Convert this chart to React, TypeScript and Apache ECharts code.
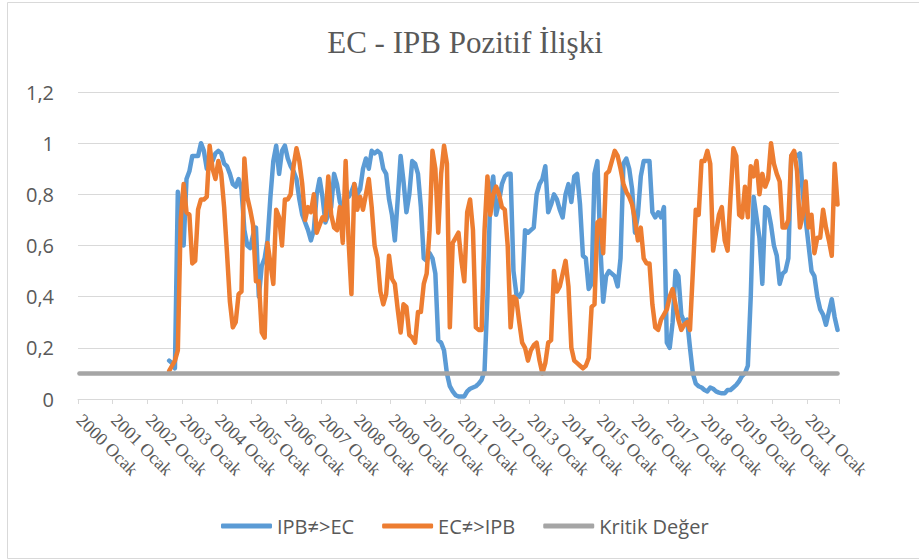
import { useEffect, useRef } from 'react';
import * as echarts from 'echarts';

const titleText = 'EC - IPB Pozitif İlişki';
const years = [2000, 2001, 2002, 2003, 2004, 2005, 2006, 2007, 2008, 2009, 2010, 2011, 2012, 2013, 2014, 2015, 2016, 2017, 2018, 2019, 2020, 2021];
const monthNames = ['Ocak', 'Şubat', 'Mart', 'Nisan', 'Mayıs', 'Haziran', 'Temmuz', 'Ağustos', 'Eylül', 'Ekim', 'Kasım', 'Aralık'];
const lastCategory = '2021 Kasım';
const seriesStart = '2002 Ağustos';

const seriesNames = ['IPB≠>EC', 'EC≠>IPB', 'Kritik Değer'];
const seriesColors = ['#5b9bd5', '#ed7d31', '#a5a5a5'];

// IPB≠>EC, monthly from 2002 Ağustos
const ipbToEc = [
  0.15, 0.14, 0.12, 0.81, 0.74,
  0.60, 0.86, 0.89, 0.95, 0.95, 0.95, 1.00, 0.97, 0.90, 0.94, 0.93, 0.96,
  0.97, 0.96, 0.92, 0.91, 0.88, 0.84, 0.83, 0.86, 0.82, 0.66, 0.60, 0.59,
  0.64, 0.67, 0.40, 0.52, 0.55, 0.62, 0.79, 0.93, 0.99, 0.88, 0.97, 0.99,
  0.94, 0.91, 0.89, 0.86, 0.78, 0.72, 0.69, 0.66, 0.62, 0.66, 0.80, 0.86,
  0.79, 0.69, 0.72, 0.75, 0.88, 0.84, 0.77, 0.74, 0.79, 0.79, 0.81, 0.84,
  0.80, 0.82, 0.90, 0.94, 0.90, 0.97, 0.96, 0.97, 0.96, 0.90, 0.88, 0.78,
  0.72, 0.62, 0.78, 0.95, 0.85, 0.73, 0.80, 0.93, 0.92, 0.88, 0.75, 0.55,
  0.54, 0.57, 0.55, 0.49, 0.23, 0.22, 0.19, 0.10, 0.05, 0.03, 0.015, 0.01,
  0.01, 0.01, 0.03, 0.04, 0.045, 0.05, 0.06, 0.075, 0.11, 0.40, 0.80, 0.87,
  0.72, 0.77, 0.84, 0.87, 0.88, 0.88, 0.50, 0.41, 0.40, 0.42, 0.66, 0.65,
  0.66, 0.67, 0.80, 0.84, 0.86, 0.91, 0.73, 0.76, 0.80, 0.78, 0.74, 0.71,
  0.80, 0.84, 0.77, 0.87, 0.88, 0.76, 0.56, 0.55, 0.43, 0.45, 0.88, 0.93,
  0.60, 0.38, 0.48, 0.50, 0.49, 0.48, 0.44, 0.55, 0.92, 0.94, 0.90, 0.82,
  0.65, 0.72, 0.87, 0.93, 0.93, 0.93, 0.73, 0.71, 0.73, 0.71, 0.75, 0.22,
  0.20, 0.30, 0.50, 0.48, 0.33, 0.30, 0.31, 0.20, 0.10, 0.06, 0.05, 0.045,
  0.035, 0.03, 0.045, 0.04, 0.03, 0.025, 0.022, 0.022, 0.035, 0.035, 0.045, 0.055,
  0.07, 0.09, 0.10, 0.13, 0.40, 0.79, 0.71, 0.63, 0.45, 0.75, 0.74, 0.68,
  0.60, 0.56, 0.45, 0.49, 0.50, 0.55, 0.95, 0.96, 0.95, 0.96, 0.80, 0.70,
  0.60, 0.50, 0.48, 0.40, 0.35, 0.33, 0.29, 0.34, 0.39, 0.32, 0.27,
];

// EC≠>IPB, monthly from 2002 Ağustos
const ecToIpb = [
  0.11, 0.13, 0.15, 0.19, 0.70,
  0.84, 0.73, 0.72, 0.53, 0.54, 0.74, 0.78, 0.78, 0.79, 0.99, 0.90, 0.86,
  0.93, 0.88, 0.75, 0.57, 0.38, 0.28, 0.30, 0.41, 0.42, 0.94, 0.79, 0.74,
  0.68, 0.46, 0.46, 0.26, 0.24, 0.61, 0.53, 0.45, 0.74, 0.71, 0.60, 0.78,
  0.78, 0.80, 0.91, 0.98, 0.93, 0.84, 0.70, 0.75, 0.73, 0.80, 0.65, 0.68,
  0.71, 0.70, 0.87, 0.72, 0.67, 0.66, 0.75, 0.61, 0.93, 0.62, 0.41, 0.84,
  0.74, 0.79, 0.74, 0.80, 0.86, 0.75, 0.60, 0.55, 0.42, 0.37, 0.41, 0.56,
  0.47, 0.45, 0.35, 0.26, 0.37, 0.36, 0.25, 0.24, 0.22, 0.34, 0.34, 0.45,
  0.49, 0.66, 0.97, 0.90, 0.65, 0.88, 0.99, 0.92, 0.28, 0.61, 0.63, 0.65,
  0.54, 0.46, 0.73, 0.78, 0.66, 0.28, 0.27, 0.27, 0.66, 0.87, 0.72, 0.80,
  0.83, 0.80, 0.75, 0.74, 0.60, 0.28, 0.40, 0.39, 0.30, 0.22, 0.20, 0.15,
  0.19, 0.21, 0.22, 0.15, 0.10, 0.14, 0.22, 0.23, 0.50, 0.42, 0.44, 0.49,
  0.54, 0.44, 0.20, 0.15, 0.14, 0.13, 0.12, 0.13, 0.16, 0.36, 0.37, 0.69,
  0.70, 0.57, 0.88, 0.89, 0.93, 0.97, 0.95, 0.90, 0.84, 0.81, 0.79, 0.76,
  0.70, 0.62, 0.67, 0.55, 0.53, 0.53, 0.37, 0.28, 0.27, 0.31, 0.33, 0.35,
  0.40, 0.43, 0.37, 0.31, 0.27, 0.29, 0.30, 0.27, 0.50, 0.74, 0.72, 0.93,
  0.93, 0.97, 0.92, 0.58, 0.65, 0.72, 0.75, 0.62, 0.58, 0.79, 0.98, 0.95,
  0.72, 0.71, 0.83, 0.71, 0.91, 0.87, 0.93, 0.80, 0.88, 0.83, 0.86, 1.00,
  0.92, 0.88, 0.85, 0.67, 0.67, 0.70, 0.95, 0.97, 0.89, 0.67, 0.72, 0.85,
  0.67, 0.72, 0.57, 0.63, 0.63, 0.74, 0.67, 0.62, 0.56, 0.92, 0.76,
];

const kritikDeger = 0.1;
const yMin = 0;
const yMax = 1.2;
const yInterval = 0.2;

const allCategories: string[] = [];
years.forEach((y) => monthNames.forEach((m) => allCategories.push(`${y} ${m}`)));
const categories = allCategories.slice(0, allCategories.indexOf(lastCategory) + 1);
const startIdx = categories.indexOf(seriesStart);
const pad = (vals: number[]) => categories.map((_, i) => (i < startIdx ? null : vals[i - startIdx] ?? null));

const TEXT = '#595959';
const GRID = '#d9d9d9';

export default function App() {
  const ref = useRef<HTMLDivElement>(null);
  useEffect(() => {
    if (!ref.current) return;
    const chart = echarts.init(ref.current, undefined, { renderer: 'svg' });
    const lineSeries = (name: string, data: (number | null)[], color: string) => ({
      name,
      type: 'line',
      data,
      showSymbol: false,
      symbol: 'none',
      connectNulls: false,
      lineStyle: { color, width: 4.5, cap: 'round', join: 'round' },
      itemStyle: { color },
      emphasis: { disabled: true },
    });
    chart.setOption({
      animation: false,
      backgroundColor: '#ffffff',
      graphic: [
        {
          type: 'rect',
          silent: true,
          z: -10,
          shape: { x: 7.5, y: 2.5, width: 940, height: 556 },
          style: { fill: 'none', stroke: GRID, lineWidth: 1 },
        },
        {
          type: 'text',
          x: 465,
          y: 42,
          style: {
            text: titleText,
            align: 'center',
            verticalAlign: 'middle',
            fontFamily: 'Liberation Serif',
            fontSize: 31,
            fill: TEXT,
          },
        },
      ],
      grid: { left: 78, right: 80, top: 92, bottom: 161, containLabel: false },
      legend: {
        data: seriesNames.map((name, i) => ({
          name,
          icon: 'roundRect',
          itemStyle: { color: seriesColors[i], borderWidth: 0 },
        })),
        left: 216,
        top: 511,
        itemWidth: 51,
        itemHeight: 5,
        itemGap: 28,
        textStyle: { fontFamily: 'Open Sans', fontSize: 20, color: TEXT },
      },
      xAxis: {
        type: 'category',
        data: categories,
        boundaryGap: true,
        axisLine: { show: true, lineStyle: { color: GRID, width: 1 } },
        axisTick: { show: true, interval: 11, length: 5, lineStyle: { color: GRID } },
        axisLabel: {
          interval: 11,
          rotate: -45,
          margin: 18,
          fontFamily: 'Liberation Serif',
          fontSize: 18,
          color: TEXT,
        },
        splitLine: { show: false },
      },
      yAxis: {
        type: 'value',
        min: yMin,
        max: yMax,
        interval: yInterval,
        axisLine: { show: false },
        axisTick: { show: false },
        axisLabel: {
          margin: 24,
          fontFamily: 'Open Sans',
          fontSize: 20,
          color: TEXT,
          formatter: (v: number) => String(Math.round(v * 10) / 10).replace('.', ','),
        },
        splitLine: { lineStyle: { color: GRID, width: 1 } },
      },
      series: [
        lineSeries(seriesNames[0], pad(ipbToEc), seriesColors[0]),
        lineSeries(seriesNames[1], pad(ecToIpb), seriesColors[1]),
        lineSeries(seriesNames[2], categories.map(() => kritikDeger), seriesColors[2]),
      ],
    });
    return () => chart.dispose();
  }, []);
  return (
    <div
      ref={ref}
      style={{ position: 'absolute', left: 0, top: 0, width: 919, height: 560, background: '#fff' }}
    />
  );
}
